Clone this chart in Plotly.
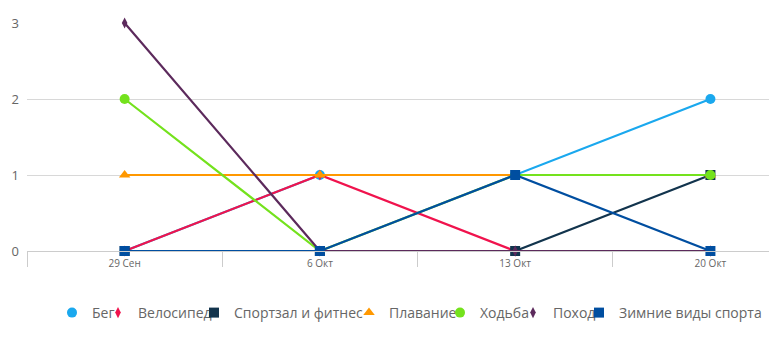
import plotly.graph_objects as go

categories = ["29 Сен", "6 Окт", "13 Окт", "20 Окт"]
series_names = ["Бег", "Велосипед", "Спортзал и фитнес", "Плавание", "Ходьба", "Поход", "Зимние виды спорта"]
beg = [0, 1, 1, 2]
velosiped = [0, 1, 0, 0]
sportzal = [0, 0, 0, 1]
plavanie = [1, 1, 1, 1]
hodba = [2, 0, 1, 1]
pohod = [3, 0, 0, 0]
zimnie = [0, 0, 1, 0]
y_ticks = [0, 1, 2, 3]

values = [beg, velosiped, sportzal, plavanie, hodba, pohod, zimnie]
colors = ["#1aa8ee", "#f0134d", "#12344d", "#ff9800", "#74e21d", "#5c2a5c", "#004ea0"]
symbols = ["circle", "diamond-tall", "square", "triangle-up", "circle", "diamond-tall", "square"]
sizes = [10, 8, 10, 10, 10, 8, 10]
legend_sym_x = [75, 121, 217, 372, 463, 536, 602]

fig = go.Figure()
for i, (name, vals) in enumerate(zip(series_names, values)):
    fig.add_trace(go.Scatter(
        x=categories, y=vals, mode="lines+markers", name=name,
        line=dict(color=colors[i], width=2.2),
        marker=dict(symbol=symbols[i], size=sizes[i], color=colors[i]),
        showlegend=False, cliponaxis=False, hoverinfo="skip",
    ))

legend_layouts = {}
for i, name in enumerate(series_names):
    key = "legend" if i == 0 else f"legend{i+1}"
    fig.add_trace(go.Scatter(
        x=[None], y=[None], mode="markers", name=name,
        marker=dict(symbol=symbols[i], size=sizes[i], color=colors[i]),
        legend=key, showlegend=True,
    ))
    legend_layouts[key] = dict(
        xref="container", yref="container",
        x=(legend_sym_x[i] - 23) / 769, xanchor="left",
        y=1 - 313 / 362, yanchor="middle",
        orientation="h", bgcolor="rgba(0,0,0,0)",
        font=dict(family="Open Sans", size=14, color="#666666"),
        itemwidth=30,
    )

fig.update_layout(
    width=769, height=362,
    margin=dict(l=27, r=0, t=23, b=111, autoexpand=False),
    paper_bgcolor="white", plot_bgcolor="white",
    font=dict(family="Open Sans", color="#666666"),
    xaxis=dict(
        type="category", range=[-0.5, 3.3], automargin=False,
        showgrid=False, showline=True, linecolor="#cccccc", linewidth=1,
        ticks="outside", tickson="boundaries", ticklen=15, tickcolor="#cccccc",
        tickfont=dict(size=10, color="#666666"), ticklabelstandoff=3,
        zeroline=False,
    ),
    yaxis=dict(
        range=[0, 3], tickvals=y_ticks, showgrid=True, gridcolor="#d8d8d8",
        zeroline=False, showline=False, ticks="", automargin=False,
        tickfont=dict(size=13, color="#666666"), ticklabelstandoff=7,
    ),
    **legend_layouts,
)

fig.write_html("out.html", post_script="document.body.style.margin='0';",
               config={"displayModeBar": False})
